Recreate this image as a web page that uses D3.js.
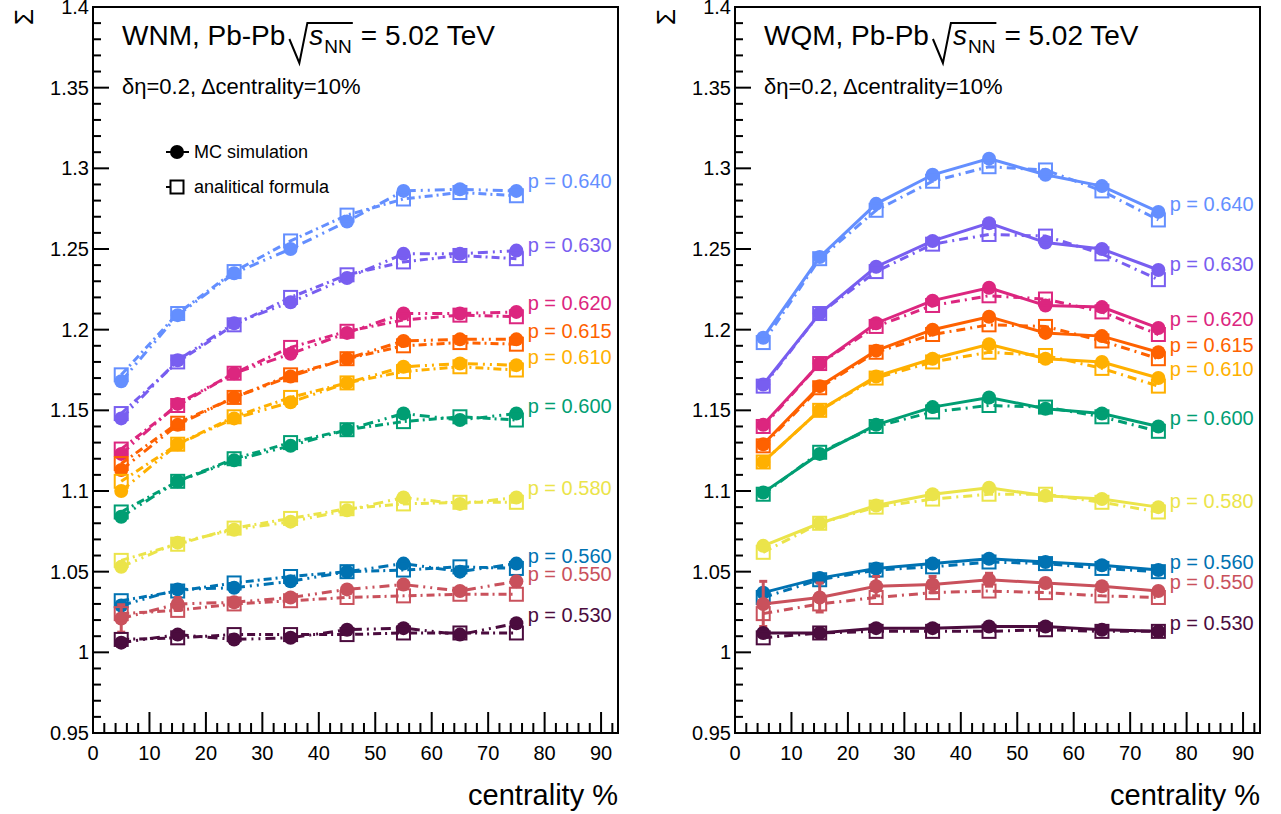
<!DOCTYPE html>
<html>
<head>
<meta charset="utf-8">
<script src="https://cdn.jsdelivr.net/npm/d3@7"></script>
<style>
  body { margin: 0; background: #fff; }
  svg text { font-family: "Liberation Sans", Arial, sans-serif; }
</style>
</head>
<body>
<div id="chart"></div>
<script>
// centrality bins
const centrality = [5, 15, 25, 35, 45, 55, 65, 75];
const pLabels = ["0.640", "0.630", "0.620", "0.615", "0.610", "0.600", "0.580", "0.560", "0.550", "0.530"];
const colors = ["#648fff", "#785ef0", "#dc267f", "#fe6100", "#ffb000", "#009e73", "#ebe44a", "#0072b2", "#c9515c", "#4b0c3e"];

const xTicks = [0, 10, 20, 30, 40, 50, 60, 70, 80, 90];
const yTicks = [0.95, 1, 1.05, 1.1, 1.15, 1.2, 1.25, 1.3, 1.35, 1.4];

// WNM - MC simulation (circles)
const wnmMC = [
  [1.168, 1.209, 1.235, 1.250, 1.267, 1.286, 1.287, 1.286],
  [1.145, 1.181, 1.204, 1.217, 1.232, 1.247, 1.247, 1.249],
  [1.123, 1.154, 1.173, 1.185, 1.198, 1.210, 1.210, 1.211],
  [1.113, 1.141, 1.158, 1.171, 1.182, 1.193, 1.194, 1.194],
  [1.100, 1.129, 1.145, 1.155, 1.167, 1.177, 1.179, 1.178],
  [1.084, 1.106, 1.119, 1.128, 1.138, 1.148, 1.144, 1.148],
  [1.053, 1.068, 1.076, 1.081, 1.088, 1.096, 1.092, 1.096],
  [1.029, 1.039, 1.040, 1.044, 1.050, 1.055, 1.050, 1.055],
  [1.021, 1.030, 1.031, 1.034, 1.039, 1.042, 1.038, 1.044],
  [1.006, 1.011, 1.008, 1.009, 1.014, 1.015, 1.011, 1.018]
];
// WNM - analitical formula (open squares)
const wnmFormula = [
  [1.172, 1.210, 1.236, 1.255, 1.271, 1.281, 1.285, 1.283],
  [1.148, 1.180, 1.203, 1.220, 1.234, 1.242, 1.246, 1.244],
  [1.126, 1.153, 1.173, 1.189, 1.199, 1.206, 1.209, 1.208],
  [1.117, 1.142, 1.158, 1.172, 1.182, 1.190, 1.192, 1.191],
  [1.106, 1.129, 1.146, 1.158, 1.167, 1.174, 1.177, 1.175],
  [1.087, 1.106, 1.120, 1.130, 1.138, 1.143, 1.146, 1.144],
  [1.057, 1.067, 1.077, 1.083, 1.089, 1.092, 1.093, 1.093],
  [1.032, 1.038, 1.043, 1.047, 1.050, 1.051, 1.053, 1.052],
  [1.024, 1.026, 1.030, 1.032, 1.034, 1.035, 1.036, 1.036],
  [1.008, 1.009, 1.011, 1.011, 1.011, 1.012, 1.012, 1.012]
];
// errors on MC points (only the p=0.550 series has visible ones)
const wnmErr550 = [0.0085, 0.004, 0, 0, 0, 0, 0, 0];

// WQM - MC simulation
const wqmMC = [
  [1.195, 1.245, 1.278, 1.296, 1.306, 1.296, 1.289, 1.273],
  [1.166, 1.210, 1.239, 1.255, 1.266, 1.254, 1.250, 1.237],
  [1.141, 1.179, 1.204, 1.218, 1.226, 1.215, 1.214, 1.201],
  [1.129, 1.165, 1.187, 1.200, 1.208, 1.198, 1.196, 1.186],
  [1.118, 1.150, 1.171, 1.182, 1.191, 1.182, 1.180, 1.170],
  [1.099, 1.123, 1.141, 1.152, 1.158, 1.151, 1.148, 1.140],
  [1.066, 1.080, 1.091, 1.098, 1.102, 1.097, 1.095, 1.090],
  [1.037, 1.046, 1.052, 1.055, 1.058, 1.056, 1.054, 1.051],
  [1.030, 1.034, 1.041, 1.042, 1.045, 1.043, 1.041, 1.038],
  [1.012, 1.012, 1.015, 1.015, 1.016, 1.016, 1.014, 1.013]
];
// WQM - analitical formula
const wqmFormula = [
  [1.192, 1.244, 1.274, 1.292, 1.301, 1.299, 1.286, 1.268],
  [1.165, 1.210, 1.236, 1.253, 1.259, 1.258, 1.247, 1.231],
  [1.140, 1.179, 1.202, 1.215, 1.221, 1.219, 1.211, 1.197],
  [1.128, 1.164, 1.186, 1.197, 1.203, 1.202, 1.193, 1.182],
  [1.118, 1.150, 1.170, 1.180, 1.186, 1.184, 1.176, 1.165],
  [1.098, 1.124, 1.140, 1.149, 1.153, 1.152, 1.146, 1.137],
  [1.062, 1.080, 1.090, 1.095, 1.098, 1.098, 1.093, 1.087],
  [1.034, 1.045, 1.051, 1.053, 1.056, 1.055, 1.052, 1.050],
  [1.024, 1.030, 1.034, 1.037, 1.038, 1.037, 1.035, 1.034],
  [1.009, 1.012, 1.013, 1.013, 1.013, 1.014, 1.013, 1.013]
];
const wqmErr550 = [0.014, 0.009, 0.006, 0.005, 0.004, 0.002, 0.002, 0.002];

// where the "p = ..." labels sit (in y units, x = 77)
const wnmLabelY = [1.292, 1.2525, 1.2165, 1.199, 1.183, 1.1526, 1.1018, 1.0596, 1.0485, 1.0231];
const wqmLabelY = [1.278, 1.2407, 1.2066, 1.1904, 1.1756, 1.1452, 1.0937, 1.0559, 1.0435, 1.0181];

const W = 1281, H = 814;
const svg = d3.select("#chart").append("svg")
  .attr("width", W).attr("height", H)
  .attr("viewBox", `0 0 ${W} ${H}`);

function drawPanel(opt) {
  const x = d3.scaleLinear().domain([0, 93]).range([opt.left, opt.left + 525]);
  const y = d3.scaleLinear().domain([0.95, 1.4]).range([733, 7]);
  const g = svg.append("g");

  // data
  const lineGen = d3.line().x((d, i) => x(centrality[i])).y(d => y(d));
  opt.mc.forEach((vals, s) => {
    const col = colors[s];
    const sg = g.append("g");
    sg.append("path").datum(vals)
      .attr("fill", "none").attr("stroke", col).attr("stroke-width", 3)
      .attr("stroke-dasharray", opt.mcDash).attr("d", lineGen);
    sg.append("path").datum(opt.formula[s])
      .attr("fill", "none").attr("stroke", col).attr("stroke-width", 3)
      .attr("stroke-dasharray", opt.fDash).attr("d", lineGen);

    // error bars
    if (s === 8) {
      opt.err.forEach((e, i) => {
        if (!e) return;
        const cx = x(centrality[i]);
        sg.append("line").attr("x1", cx).attr("x2", cx)
          .attr("y1", y(vals[i] - e)).attr("y2", y(vals[i] + e))
          .attr("stroke", col).attr("stroke-width", 3);
        [vals[i] - e, vals[i] + e].forEach(v => {
          sg.append("line").attr("x1", cx - 4).attr("x2", cx + 4)
            .attr("y1", y(v)).attr("y2", y(v))
            .attr("stroke", col).attr("stroke-width", 3);
        });
      });
    }

    sg.selectAll("circle").data(vals).join("circle")
      .attr("cx", (d, i) => x(centrality[i])).attr("cy", d => y(d))
      .attr("r", 7).attr("fill", col);
    sg.selectAll("rect").data(opt.formula[s]).join("rect")
      .attr("x", (d, i) => x(centrality[i]) - 6.5).attr("y", d => y(d) - 6.5)
      .attr("width", 13).attr("height", 13)
      .attr("fill", "none").attr("stroke", col).attr("stroke-width", 2);

    g.append("text")
      .attr("x", x(77)).attr("y", y(opt.labelY[s])).attr("dy", "0.35em")
      .attr("fill", col).attr("font-size", 20)
      .text("p = " + pLabels[s]);
  });

  // frame
  g.append("rect")
    .attr("x", x(0)).attr("y", y(1.4))
    .attr("width", x(93) - x(0)).attr("height", y(0.95) - y(1.4))
    .attr("fill", "none").attr("stroke", "#000").attr("stroke-width", 2);

  // y ticks
  const yMinor = d3.range(95, 141, 1).map(v => v / 100);
  g.selectAll(".ymin").data(yMinor).join("line")
    .attr("x1", x(0)).attr("x2", d => x(0) + (yTicks.some(t => Math.abs(t - d) < 1e-6) ? 16 : 8))
    .attr("y1", d => y(d)).attr("y2", d => y(d))
    .attr("stroke", "#000").attr("stroke-width", 2);
  g.selectAll(".ylab").data(yTicks).join("text")
    .attr("x", x(0) - 4).attr("y", d => y(d)).attr("dy", "0.35em")
    .attr("text-anchor", "end").attr("font-size", 20)
    .text(d => String(+d.toFixed(2)));

  // x ticks
  const xMinor = d3.range(0, 93, 2);
  g.selectAll(".xmin").data(xMinor).join("line")
    .attr("x1", d => x(d)).attr("x2", d => x(d))
    .attr("y1", y(0.95)).attr("y2", d => y(0.95) - (d % 10 === 0 ? 21 : 10))
    .attr("stroke", "#000").attr("stroke-width", 2);
  g.selectAll(".xlab").data(xTicks).join("text")
    .attr("x", d => x(d)).attr("y", y(0.95) + 27)
    .attr("text-anchor", "middle").attr("font-size", 20)
    .text(d => d);

  // axis titles
  g.append("text")
    .attr("x", x(93)).attr("y", 805)
    .attr("text-anchor", "end").attr("font-size", 29)
    .text("centrality %");
  g.append("text")
    .attr("transform", `translate(${opt.left - 60},9) rotate(-90)`)
    .attr("text-anchor", "end").attr("font-size", 26)
    .text("Σ");

  // title with sqrt(s_NN)
  const tx = opt.left + 29, ty = 45;
  const t1 = g.append("text").attr("x", tx).attr("y", ty).attr("font-size", 28).text(opt.model + ", Pb-Pb");
  const r0 = tx + t1.node().getComputedTextLength() + 4;
  const sx = r0 + 20;
  const s = g.append("text").attr("x", sx).attr("y", ty).attr("font-size", 28)
    .attr("font-style", "italic").text("s");
  const nnx = sx + s.node().getComputedTextLength() + 1;
  const nn = g.append("text").attr("x", nnx).attr("y", ty + 8).attr("font-size", 19).text("NN");
  const endR = nnx + nn.node().getComputedTextLength() + 1;
  g.append("path")
    .attr("d", `M${r0},${ty - 6} L${r0 + 10},${ty + 18} L${r0 + 18},${ty - 22} L${endR},${ty - 22}`)
    .attr("fill", "none").attr("stroke", "#000").attr("stroke-width", 2);
  g.append("text").attr("x", endR + 8).attr("y", ty).attr("font-size", 28).text("= 5.02 TeV");

  g.append("text").attr("x", tx).attr("y", 94).attr("font-size", 22)
    .text("δη=0.2, Δcentrality=10%");

  if (opt.legend) {
    const lg = g.append("g");
    lg.append("line").attr("x1", 166).attr("x2", 189).attr("y1", 152).attr("y2", 152)
      .attr("stroke", "#000").attr("stroke-width", 2);
    lg.append("circle").attr("cx", 177).attr("cy", 152).attr("r", 7).attr("fill", "#000");
    lg.append("text").attr("x", 194).attr("y", 158).attr("font-size", 18).text("MC simulation");
    lg.append("line").attr("x1", 166).attr("x2", 171).attr("y1", 187).attr("y2", 187)
      .attr("stroke", "#000").attr("stroke-width", 2);
    lg.append("rect").attr("x", 170.5).attr("y", 180.5).attr("width", 13).attr("height", 13)
      .attr("fill", "none").attr("stroke", "#000").attr("stroke-width", 2);
    lg.append("text").attr("x", 194).attr("y", 193).attr("font-size", 18).text("analitical formula");
  }
}

drawPanel({
  left: 93, model: "WNM", mc: wnmMC, formula: wnmFormula, err: wnmErr550,
  labelY: wnmLabelY, mcDash: "10,5,2,5,2,5", fDash: "8,4,2,4", legend: true
});
drawPanel({
  left: 735, model: "WQM", mc: wqmMC, formula: wqmFormula, err: wqmErr550,
  labelY: wqmLabelY, mcDash: null, fDash: "9,5,2,5", legend: false
});
</script>
</body>
</html>
